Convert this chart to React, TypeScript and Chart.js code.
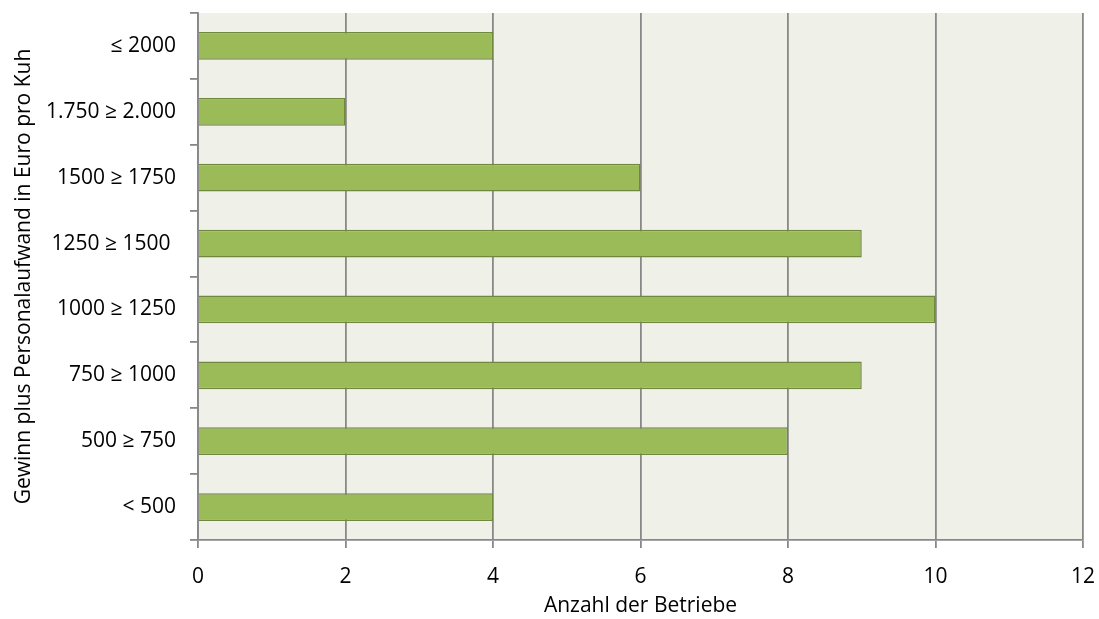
import React, { useEffect, useRef } from "react";
import { Chart, registerables } from "chart.js";

Chart.register(...registerables);

const categories = [
  "≤ 2000",
  "1.750 ≥ 2.000",
  "1500 ≥ 1750",
  "1250 ≥ 1500 ",
  "1000 ≥ 1250",
  "750 ≥ 1000",
  "500 ≥ 750",
  "< 500",
];
const betriebe = [4, 2, 6, 9, 10, 9, 8, 4];
const xTicks = [0, 2, 4, 6, 8, 10, 12];

const FONT = "'Open Sans', Lato, sans-serif";
const SIZE = 21;
const GRID = "#888888";

const plotBackground = {
  id: "plotBackground",
  beforeDraw(chart: any) {
    const { ctx, chartArea } = chart;
    ctx.save();
    ctx.fillStyle = "#EFF1E9";
    ctx.fillRect(chartArea.left, chartArea.top, chartArea.right - chartArea.left, chartArea.bottom - chartArea.top);
    ctx.restore();
  },
};

export default function App() {
  const ref = useRef<HTMLCanvasElement | null>(null);

  useEffect(() => {
    if (!ref.current) return;
    const chart = new Chart(ref.current, {
      type: "bar",
      data: {
        labels: categories,
        datasets: [
          {
            data: betriebe,
            backgroundColor: "#9BBB59",
            borderColor: "#71893F",
            borderWidth: 1.5,
            categoryPercentage: 1,
            barPercentage: 0.42,
          },
        ],
      },
      options: {
        indexAxis: "y",
        responsive: false,
        animation: false,
        layout: { padding: { top: 13, right: 16, left: 0, bottom: 0 } },
        plugins: {
          legend: { display: false },
          tooltip: { enabled: false },
        },
        scales: {
          x: {
            min: 0,
            max: 12,
            afterBuildTicks(scale: any) {
              scale.ticks = xTicks.map((v) => ({ value: v }));
            },
            afterFit(scale: any) {
              scale.height = 79;
              scale.paddingLeft = 0;
              scale.paddingRight = 0;
            },
            grid: { color: GRID, lineWidth: 1.8, drawTicks: true, tickLength: 8, tickColor: GRID },
            border: { display: true, color: GRID, width: 1.8 },
            ticks: { color: "#000", font: { family: FONT, size: SIZE }, padding: 16, maxRotation: 0 },
            title: {
              display: true,
              text: "Anzahl der Betriebe",
              color: "#000",
              font: { family: FONT, size: SIZE },
              padding: { top: 0, bottom: 0 },
            },
          },
          y: {
            afterFit(scale: any) {
              scale.width = 198;
              scale.paddingTop = 0;
              scale.paddingBottom = 0;
            },
            grid: {
              offset: true,
              drawOnChartArea: false,
              drawTicks: true,
              tickLength: 8,
              tickColor: GRID,
              lineWidth: 1.8,
              color: GRID,
            },
            border: { display: true, color: GRID, width: 1.8 },
            ticks: { color: "#000", font: { family: FONT, size: SIZE }, padding: 14 },
            title: {
              display: true,
              text: "Gewinn plus Personalaufwand in Euro pro Kuh",
              color: "#000",
              font: { family: FONT, size: SIZE },
              padding: { top: 11, bottom: 0 },
            },
          },
        },
      },
      plugins: [plotBackground],
    });
    return () => chart.destroy();
  }, []);

  return (
    <div style={{ position: "absolute", left: 0, top: 0, width: 1099, height: 619, background: "#fff" }}>
      <canvas ref={ref} width={1099} height={619} style={{ display: "block", width: 1099, height: 619 }} />
    </div>
  );
}
